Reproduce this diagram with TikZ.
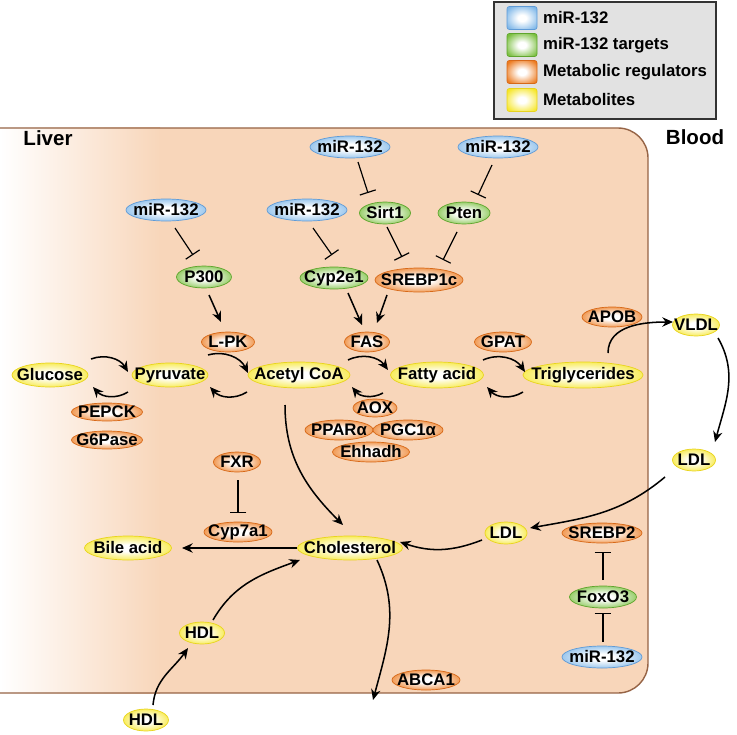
\documentclass[tikz,border=0pt]{standalone}
\usepackage{fontspec}
\setmainfont{Liberation Sans}
\usetikzlibrary{shapes,arrows.meta}

\definecolor{mirfill}{RGB}{125,182,232}
\definecolor{mirline}{RGB}{95,155,215}
\definecolor{tgtfill}{RGB}{120,190,60}
\definecolor{tgtline}{RGB}{95,165,45}
\definecolor{regfill}{RGB}{236,122,30}
\definecolor{regline}{RGB}{215,105,25}
\definecolor{metfill}{RGB}{246,230,40}
\definecolor{metline}{RGB}{232,212,30}
\definecolor{peach}{RGB}{248,214,186}
\definecolor{liverline}{RGB}{150,100,70}
\definecolor{keygray}{RGB}{226,226,226}

\newlength\pxlen
\setlength\pxlen{0.03cm}
\colorlet{glowcol}{white}
\pgfdeclareradialshading[glowcol]{glow}{\pgfpoint{0bp}{0bp}}{color(0bp)=(white); color(7bp)=(white); color(31bp)=(glowcol); color(50bp)=(glowcol)}

\begin{document}
\begin{tikzpicture}[x=0.03cm,y=-0.03cm,
    every node/.style={font=\bfseries\fontsize{14.3}{15}\selectfont},
    bio/.style={ellipse, shade, shading=glow, line width=0.6pt,
        inner xsep=-2cm, inner ysep=-1cm, minimum width=#1\pxlen},
    mir/.style={bio=#1, minimum height=22\pxlen, draw=mirline,
        /utils/exec={\colorlet{glowcol}{mirfill}}},
    tgt/.style={bio=#1, minimum height=22\pxlen, draw=tgtline,
        /utils/exec={\colorlet{glowcol}{tgtfill}}},
    reg/.style={bio=#1, minimum height=20\pxlen, draw=regline,
        /utils/exec={\colorlet{glowcol}{regfill}}},
    met/.style={bio=#1, minimum height=24\pxlen, draw=metline,
        /utils/exec={\colorlet{glowcol}{metfill}}},
    key/.style={rectangle, rounded corners=2pt, shade, shading=glow, line width=0.6pt,
        minimum width=30\pxlen, minimum height=23\pxlen, inner sep=0pt},
    act/.style={line width=1.3pt, -{Stealth[length=3.2mm,width=2.8mm]}},
    inh/.style={line width=1pt, -{Bar[width=5mm]}}]
    \useasboundingbox (0,0) rectangle (737,734);

    % liver compartment
    \fill[peach, rounded corners=30\pxlen] (-40,128) rectangle (648,693);
    \shade[left color=white, right color=peach] (0,128) rectangle (160,693);
    \draw[liverline, line width=1.2pt, rounded corners=30\pxlen] (-40,128) rectangle (648,693);
    \node[font=\bfseries\fontsize{17.5}{19}\selectfont] (liver) at (48,138) {Liver};
    \node[font=\bfseries\fontsize{17.5}{19}\selectfont] (blood) at (695,137) {Blood};

    % legend
    \draw[fill=keygray, draw=black!80, line width=1.2pt] (494,2) rectangle (716,119);
    \node[key, draw=mirline, /utils/exec={\colorlet{glowcol}{mirfill}}] (keymir) at (522,18) {};
    \node[key, draw=tgtline, /utils/exec={\colorlet{glowcol}{tgtfill}}] (keytgt) at (522,45) {};
    \node[key, draw=regline, /utils/exec={\colorlet{glowcol}{regfill}}] (keyreg) at (522,72) {};
    \node[key, draw=metline, /utils/exec={\colorlet{glowcol}{metfill}}] (keymet) at (522,100) {};
    \node[anchor=west] (txtmir) at (539,18) {miR-132};
    \node[anchor=west] (txttgt) at (539,45) {miR-132 targets};
    \node[anchor=west] (txtreg) at (539,72) {Metabolic regulators};
    \node[anchor=west] (txtmet) at (539,100) {Metabolites};

    % microRNA and targets
    \node[mir=80] (mirC) at (350,147) {miR-132};
    \node[mir=80] (mirD) at (498,147) {miR-132};
    \node[mir=80] (mirA) at (166,210) {miR-132};
    \node[mir=80] (mirB) at (307,210) {miR-132};
    \node[tgt=51] (sirt1) at (385,213) {Sirt1};
    \node[tgt=52] (pten) at (464,213) {Pten};
    \node[tgt=55] (p300) at (204,277) {P300};
    \node[tgt=68] (cyp2e1) at (334,278) {Cyp2e1};
    \node[reg=88, minimum height=24\pxlen] (srebp1c) at (419,280) {SREBP1c};
    \node[reg=53] (lpk) at (228,342) {L-PK};
    \node[reg=45] (fas) at (367,342) {FAS};
    \node[reg=57] (gpat) at (503,342) {GPAT};
    \node[reg=60] (apob) at (612,317) {APOB};
    \node[met=47, minimum height=22\pxlen] (vldl) at (696,325) {VLDL};

    % metabolites
    \node[met=76] (glucose) at (50,375) {Glucose};
    \node[met=76] (pyruvate) at (170,375) {Pyruvate};
    \node[met=102, minimum height=26\pxlen] (acetyl) at (299,375) {Acetyl CoA};
    \node[met=93, minimum height=26\pxlen] (fatty) at (437,375) {Fatty acid};
    \node[met=120, minimum height=26\pxlen] (trig) at (583,375) {Triglycerides};
    \node[reg=71, minimum height=18\pxlen] (pepck) at (107,412) {PEPCK};
    \node[reg=71, minimum height=18\pxlen] (g6pase) at (107,440) {G6Pase};
    \node[reg=68] (ppara) at (339,430) {PPARα};
    \node[reg=70] (pgc1a) at (408,430) {PGC1α};
    \node[reg=77] (ehhadh) at (371,452) {Ehhadh};
    \node[reg=44, minimum height=18\pxlen] (aox) at (375,408) {AOX};
    \node[reg=47] (fxr) at (237,462) {FXR};
    \node[reg=68] (cyp7a1) at (238,532) {Cyp7a1};
    \node[met=87] (bile) at (128,548) {Bile acid};
    \node[met=105] (chol) at (350,548) {Cholesterol};
    \node[met=42, minimum height=22\pxlen] (ldlin) at (506,533) {LDL};
    \node[met=43, minimum height=22\pxlen] (ldlout) at (694,460) {LDL};
    \node[reg=80] (srebp2) at (602,533) {SREBP2};
    \node[tgt=67] (foxo3) at (603,597) {FoxO3};
    \node[mir=80] (mirE) at (602,657) {miR-132};
    \node[reg=68] (abca1) at (426,680) {ABCA1};
    \node[met=45, minimum height=22\pxlen] (hdlin) at (202,633) {HDL};
    \node[met=45, minimum height=22\pxlen] (hdlout) at (146,720) {HDL};
    \coordinate (efflux) at (373,700);

    % inhibition
    \draw[inh] ([shift={(9,18)}]mirA.center) -- ([shift={(-11,-22)}]p300.center);
    \draw[inh] ([shift={(6,18)}]mirB.center) -- ([shift={(-2,-23)}]cyp2e1.center);
    \draw[inh] ([shift={(8,15)}]mirC.center) -- ([shift={(-17,-20)}]sirt1.center);
    \draw[inh] ([shift={(-6,18)}]mirD.center) -- ([shift={(14,-18)}]pten.center);
    \draw[inh] ([shift={(2,14)}]sirt1.center) -- ([shift={(-17,-23)}]srebp1c.center);
    \draw[inh] ([shift={(-7,19)}]pten.center) -- ([shift={(24,-20)}]srebp1c.center);
    \draw[inh] ([shift={(1,18)}]fxr.center) -- ([shift={(0,-19)}]cyp7a1.center);
    \draw[inh] ([shift={(0,-17)}]foxo3.center) -- ([shift={(1,19)}]srebp2.center);
    \draw[inh] ([shift={(1,-15)}]mirE.center) -- ([shift={(0,16)}]foxo3.center);

    % activation
    \draw[act] ([shift={(5,18)}]p300.center) -- ([shift={(-7,-20)}]lpk.center);
    \draw[act] ([shift={(14,15)}]cyp2e1.center) -- ([shift={(-5,-17)}]fas.center);
    \draw[act] ([shift={(-32,15)}]srebp1c.center) -- ([shift={(10,-19)}]fas.center);

    % metabolic conversions
    \draw[act] ([shift={(41,-16)}]glucose.center) to[bend left=40] ([shift={(-42,-3)}]pyruvate.center);
    \draw[act] ([shift={(-42,17)}]pyruvate.center) to[bend left=40] ([shift={(43,12)}]glucose.center);
    \draw[act] ([shift={(38,-20)}]pyruvate.center) to[bend left=40] ([shift={(-51,-2)}]acetyl.center);
    \draw[act] ([shift={(-52,17)}]acetyl.center) to[bend left=40] ([shift={(40,12)}]pyruvate.center);
    \draw[act] ([shift={(49,-15)}]acetyl.center) to[bend left=40] ([shift={(-49,-5)}]fatty.center);
    \draw[act] ([shift={(-54,18)}]fatty.center) to[bend left=40] ([shift={(53,12)}]acetyl.center);
    \draw[act] ([shift={(46,-15)}]fatty.center) to[bend left=40] ([shift={(-58,-3)}]trig.center);
    \draw[act] ([shift={(-60,17)}]trig.center) to[bend left=40] ([shift={(50,12)}]fatty.center);

    % lipoprotein traffic
    \draw[act] ([shift={(25,-22)}]trig.center) to[out=90,in=180] ([shift={(-23,-3)}]vldl.center);
    \draw[act] ([shift={(22,13)}]vldl.center) to[out=-60,in=75] ([shift={(21,-18)}]ldlout.center);
    \draw[act] ([shift={(-29,17)}]ldlout.center) to[out=-140,in=10] ([shift={(24,-5)}]ldlin.center);
    \draw[act] ([shift={(-24,7)}]ldlin.center) to[bend left=20] ([shift={(50,-6)}]chol.center);
    \draw[act] ([shift={(-14,30)}]acetyl.center) to[out=-90,in=135] ([shift={(-7,-23)}]chol.center);
    \draw[act] ([shift={(-53,0)}]chol.center) -- ([shift={(54,0)}]bile.center);
    \draw[act] ([shift={(27,12)}]chol.center) to[out=-65,in=75] (efflux);
    \draw[act] ([shift={(7,-15)}]hdlout.center) to[out=85,in=-125] ([shift={(-14,15)}]hdlin.center);
    \draw[act] ([shift={(11,-13)}]hdlin.center) to[out=60,in=200] ([shift={(-50,12)}]chol.center);
\end{tikzpicture}
\end{document}
